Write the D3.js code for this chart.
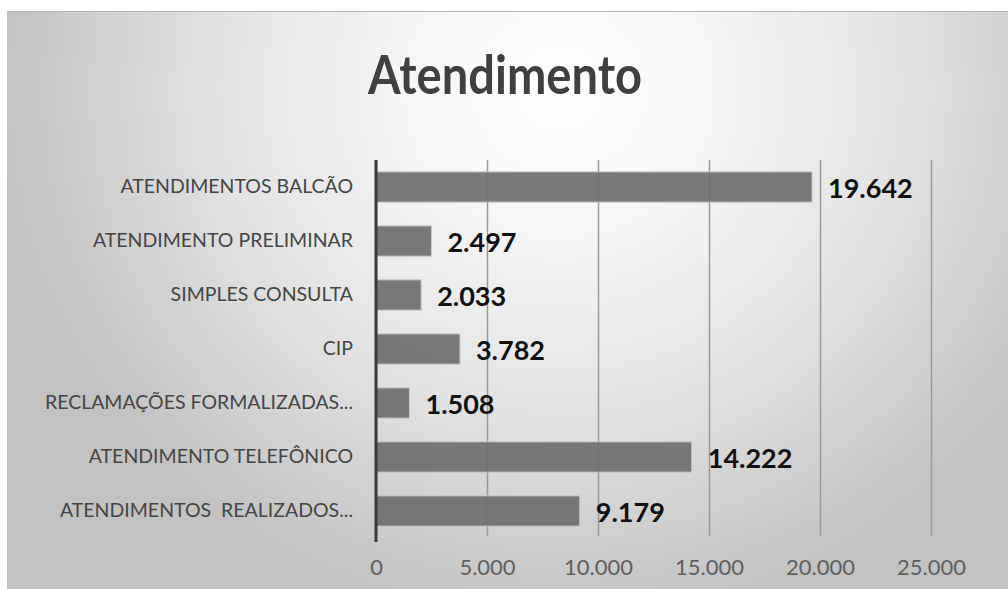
<!DOCTYPE html>
<html>
<head>
<meta charset="utf-8">
<script src="https://cdn.jsdelivr.net/npm/d3@7"></script>
<style>
  html, body { margin: 0; padding: 0; background: #ffffff; }
  svg { display: block; }
</style>
</head>
<body>
<div id="svgOutput"></div>
<script>
// data
const title = "Atendimento";
const categories = [
  "ATENDIMENTOS BALCÃO",
  "ATENDIMENTO PRELIMINAR",
  "SIMPLES CONSULTA",
  "CIP",
  "RECLAMAÇÕES FORMALIZADAS...",
  "ATENDIMENTO TELEFÔNICO",
  "ATENDIMENTOS  REALIZADOS..."
];
const values = [19642, 2497, 2033, 3782, 1508, 14222, 9179];
const tickValues = [0, 5000, 10000, 15000, 20000, 25000];

(function () {
  document.addEventListener('DOMContentLoaded', function () {

    // config

    const width = 1008;
    const height = 589;
    const margin = {
      "top": 160,
      "bottom": 51,
      "left": 376,
      "right": 77
    }

    const ptBR = d3.formatLocale({
      decimal: ",",
      thousands: ".",
      grouping: [3],
      currency: ["R$ ", ""]
    });
    const fmt = ptBR.format(",");

    const rows = categories.map((c, i) => ({ name: c, value: values[i] }));

    // scales

    const xScale = d3.scaleLinear()
      .domain([0, 25000])
      .range([margin.left, width - margin.right]);

    const yScale = d3.scaleBand()
      .domain(categories)
      .range([margin.top, height - margin.bottom])
      .paddingInner(0.44)
      .paddingOuter(0.22);

    // svg output

    const svg = d3.select("#svgOutput")
      .append("svg")
      .attr("width", width)
      .attr("height", height)
      .attr("viewBox", [0, 0, width, height]);

    const defs = svg.append("defs");
    const grad = defs.append("radialGradient")
      .attr("id", "bg")
      .attr("gradientUnits", "userSpaceOnUse")
      .attr("cx", 560)
      .attr("cy", 90)
      .attr("r", 560)
      .attr("gradientTransform", "translate(560,90) scale(1,0.95) translate(-560,-90)");
    grad.append("stop").attr("offset", "0").attr("stop-color", "#ffffff");
    grad.append("stop").attr("offset", "0.25").attr("stop-color", "#f7f7f7");
    grad.append("stop").attr("offset", "0.6").attr("stop-color", "#e3e3e3");
    grad.append("stop").attr("offset", "1").attr("stop-color", "#c2c2c2");

    // chart area background

    svg.append("rect")
      .attr("x", 7)
      .attr("y", 11)
      .attr("width", width - 7)
      .attr("height", height - 11)
      .attr("fill", "url(#bg)");

    svg.append("line")
      .attr("x1", 7).attr("x2", width)
      .attr("y1", 11.5).attr("y2", 11.5)
      .attr("stroke", "#b4b4b4")
      .attr("stroke-width", 1);

    // title

    svg.append("text")
      .attr("x", 505)
      .attr("y", 94)
      .attr("text-anchor", "middle")
      .attr("font-family", "Lato, 'Open Sans', sans-serif")
      .attr("font-weight", 700)
      .attr("font-size", 54)
      .attr("textLength", 274)
      .attr("lengthAdjust", "spacingAndGlyphs")
      .attr("fill", "#404040")
      .text(title);

    // x axis with gridlines

    const xAxis = d3.axisBottom(xScale)
      .tickValues(tickValues)
      .tickFormat(fmt)
      .tickSize(-(height - margin.bottom - margin.top - 2))
      .tickPadding(23);

    svg.append("g")
      .attr("transform", "translate(0, " + (height - margin.bottom - 2) + ")")
      .call(xAxis)
      .call(g => g.select(".domain").remove())
      .call(g => g.selectAll(".tick line")
        .attr('stroke', '#9a9a9a')
        .attr('stroke-width', 1.5))
      .call(g => g.selectAll(".tick text")
        .attr('fill', '#5f5f5f')
        .attr('font-family', "Lato, sans-serif")
        .attr('font-size', 22));

    // bars

    svg.selectAll("rect.bar")
      .data(rows)
      .join('rect')
      .attr('class', 'bar')
      .attr('x', xScale(0))
      .attr("y", (d) => yScale(d.name))
      .attr("width", (d) => xScale(d.value) - xScale(0))
      .attr("height", yScale.bandwidth())
      .attr("fill", "#6f6f6f")
      .attr("fill-opacity", 0.93)
      .attr("stroke", "#c9c9c9")
      .attr("stroke-width", 1)
      .append('title')
      .text((d) => `${d.name}: ${fmt(d.value)}`);

    // value labels

    svg.selectAll("text.value")
      .data(rows)
      .join('text')
      .attr('class', 'value')
      .attr('x', (d) => xScale(d.value) + 16)
      .attr('y', (d) => yScale(d.name) + yScale.bandwidth() / 2 + 2)
      .attr('dy', '0.35em')
      .attr('font-family', "Lato, sans-serif")
      .attr('font-weight', 700)
      .attr('font-size', 27)
      .attr('fill', '#111111')
      .text((d) => fmt(d.value));

    // category axis

    const yAxis = d3.axisLeft(yScale)
      .tickSize(0)
      .tickPadding(23);

    svg.append("g")
      .attr("transform", "translate(" + margin.left + ", 0)")
      .call(yAxis)
      .call(g => g.select(".domain")
        .attr('d', `M0,${margin.top}V${height - margin.bottom + 4}`)
        .attr('stroke', '#3a3a3a')
        .attr('stroke-width', 3))
      .call(g => g.selectAll(".tick text")
        .attr('fill', '#454545')
        .attr('font-family', "Lato, sans-serif")
        .attr('font-size', 19.5)
        .style('white-space', 'pre'));

  });
})();
</script>
</body>
</html>
